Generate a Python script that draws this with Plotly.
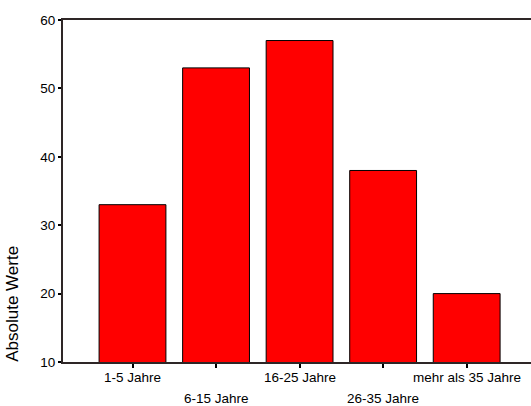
import plotly.graph_objects as go

categories = ["1-5 Jahre", "6-15 Jahre", "16-25 Jahre", "26-35 Jahre", "mehr als 35 Jahre"]
values = [33, 53, 57, 38, 20]
y_ticks = [10, 20, 30, 40, 50, 60]
y_title = "Absolute Werte"

font_fam = "Liberation Sans, Arial, sans-serif"
axis_col = "#2e2626"

fig = go.Figure()
fig.add_trace(go.Bar(
    x=list(range(len(categories))),
    y=values,
    width=0.8,
    marker=dict(color="#FF0000", line=dict(color="#000000", width=1)),
    hoverinfo="skip",
))

annotations = []
for i, c in enumerate(categories):
    annotations.append(dict(
        x=i, xref="x", y=0, yref="paper", text=c, showarrow=False,
        xanchor="center", yanchor="middle",
        yshift=-15 if i % 2 == 0 else -36,
        font=dict(family=font_fam, size=13.5, color="#000000"),
    ))
annotations.append(dict(
    x=-0.107, xref="paper", y=0.17, yref="paper", text=y_title, showarrow=False,
    textangle=-90, xanchor="center", yanchor="middle",
    font=dict(family=font_fam, size=17, color="#000000"),
))

fig.update_layout(
    width=531, height=406,
    margin=dict(l=63, r=0, t=20, b=44),
    paper_bgcolor="white", plot_bgcolor="white",
    showlegend=False,
    annotations=annotations,
    xaxis=dict(
        range=[-0.832, 4.77],
        tickvals=list(range(len(categories))),
        showticklabels=False,
        ticks="outside", ticklen=4, tickwidth=2, tickcolor="#000000",
        showline=True, linecolor=axis_col, linewidth=1.5, mirror=True,
        showgrid=False, zeroline=False, fixedrange=True,
    ),
    yaxis=dict(
        range=[10, 60],
        tickvals=y_ticks,
        ticks="outside", ticklen=3, tickwidth=2, tickcolor="#000000",
        tickfont=dict(family=font_fam, size=13.5, color="#000000"),
        showline=True, linecolor=axis_col, linewidth=2,
        showgrid=False, zeroline=False, fixedrange=True,
    ),
)

fig.write_html(
    "out.html",
    config={"displayModeBar": False},
    post_script="document.body.style.margin='0';document.body.style.overflow='hidden';",
)
